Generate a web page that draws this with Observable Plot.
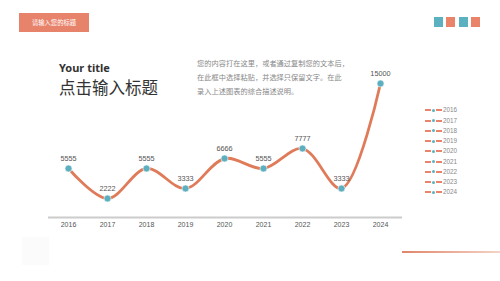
<!DOCTYPE html>
<html><head><meta charset="utf-8">
<script src="https://cdn.jsdelivr.net/npm/d3@7"></script>
<script src="https://cdn.jsdelivr.net/npm/@observablehq/plot@0.6"></script>
<style>
html,body{margin:0;padding:0;background:#fff;}
body{width:500px;height:281px;position:relative;overflow:hidden;font-family:"Noto Sans CJK SC","Noto Sans",sans-serif;}
.abs{position:absolute;}
#banner{left:19px;top:13px;width:70px;height:19px;background:#E8836B;color:#fff;font-size:6.3px;line-height:19px;text-align:center;}
#sub{left:59px;top:61px;font-size:11px;font-weight:bold;color:#333;line-height:14px;font-family:"Noto Sans","Noto Sans CJK SC",sans-serif;}
#title{left:59px;top:76px;font-size:16.5px;color:#333;line-height:22px;}
#para{left:197px;top:56px;font-size:7.2px;color:#888;line-height:14px;letter-spacing:0.05px;white-space:nowrap;}
.sq{position:absolute;top:17px;width:9px;height:10px;}
#chart{left:0;top:0;}
.leg{position:absolute;left:425px;height:8px;font-size:6.3px;color:#888;line-height:8px;font-family:"Liberation Sans",sans-serif;}
.leg span{display:inline-block;vertical-align:middle;}
#deco{left:402px;top:251px;width:98px;height:2px;background:linear-gradient(to right,#E0856A,#F5D3C6);}
#faint{left:22px;top:237px;width:27px;height:28px;background:#fbfbfb;}
</style></head>
<body>
<div id="banner" class="abs">请输入您的标题</div>
<div id="sub" class="abs">Your title</div>
<div id="title" class="abs">点击输入标题</div>
<div id="para" class="abs">您的内容打在这里，或者通过复制您的文本后，<br>在此框中选择粘贴，并选择只保留文字。在此<br>录入上述图表的综合描述说明。</div>
<div id="deco" class="abs"></div>
<div id="faint" class="abs"></div>
<div id="chart" class="abs"></div>
<script>
const years = ["2016","2017","2018","2019","2020","2021","2022","2023","2024"];
const values = [5555,2222,5555,3333,6666,5555,7777,3333,15000];
const squareColors = ["#5BB1C0","#E9846A","#5BB1C0","#E9846A"];

const data = years.map((y,i)=>({year:y, value:values[i]}));

squareColors.forEach((c,i)=>{
  const d=document.createElement("div");
  d.className="sq"; d.style.left=(434+i*12.3)+"px"; d.style.background=c;
  document.body.appendChild(d);
});

years.forEach((y,i)=>{
  const d=document.createElement("div");
  d.className="leg"; d.style.top=(106+i*10.25)+"px";
  d.innerHTML='<span style="width:6px;height:2px;background:#E9846A"></span><span style="width:3px;height:3px;border-radius:50%;background:#5BB1C0;margin:0 1px"></span><span style="width:6px;height:2px;background:#E9846A;margin-right:1px"></span><span>'+y+'</span>';
  document.body.appendChild(d);
});

const chart = Plot.plot({
  width:500, height:281,
  marginLeft:48, marginRight:98, marginTop:83, marginBottom:63,
  style:{background:"transparent", fontFamily:"Liberation Sans, sans-serif"},
  x:{type:"point", domain:years, range:[66,382], padding:0, label:null},
  y:{domain:[0,15000], axis:null},
  marks:[
    Plot.ruleY([0],{stroke:"#cccccc", strokeWidth:2, dy:-1}),
    Plot.axisX({tickSize:0, tickPadding:4, fontSize:7, fill:"#555", label:null}),
    Plot.line(data,{x:"year", y:"value", stroke:"#E07B5A", strokeWidth:2.8, curve:"catmull-rom"}),
    Plot.dot(data,{x:"year", y:"value", r:3.5, fill:"#5BAFBF", stroke:"#fff", strokeWidth:0.6}),
    Plot.text(data,{x:"year", y:"value", text:d=>String(d.value), dy:-10, fontSize:7.3, fill:"#555"})
  ]
});
document.getElementById("chart").appendChild(chart);
</script>
</body></html>
